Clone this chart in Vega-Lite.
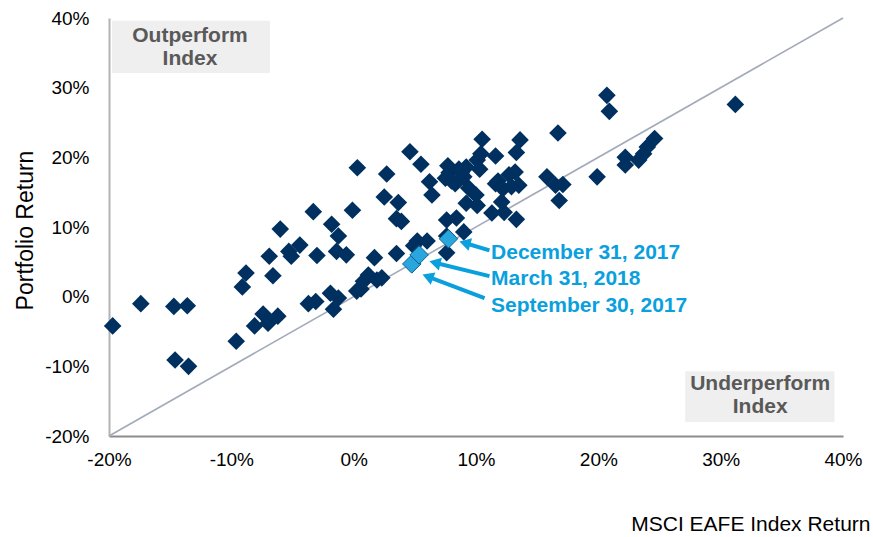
{
  "$schema": "https://vega.github.io/schema/vega-lite/v6.json",
  "width": 734,
  "height": 418,
  "autosize": {"type": "none"},
  "padding": {"left": 109, "top": 18, "right": 30, "bottom": 101},
  "background": "white",
  "config": {
    "font": "Liberation Sans",
    "view": {"stroke": null},
    "axis": {"grid": false, "ticks": false, "labelFlush": false, "labelOverlap": false, "labelColor": "#000000", "titleColor": "#000000", "titleFontWeight": "normal", "labelFontSize": 19}
  },
  "datasets": {
    "pts": [
      {"x": -19.7, "y": -4.2}, {"x": -17.4, "y": -1.0}, {"x": -14.7, "y": -1.4}, {"x": -13.6, "y": -1.3},
      {"x": -14.6, "y": -9.1}, {"x": -13.5, "y": -10.0}, {"x": -9.6, "y": -6.4}, {"x": -9.1, "y": 1.4},
      {"x": -8.8, "y": 3.4}, {"x": -6.9, "y": 5.8}, {"x": -6.6, "y": 3.0}, {"x": -6.0, "y": 9.7},
      {"x": -8.1, "y": -4.2}, {"x": -7.4, "y": -2.5}, {"x": -7.0, "y": -3.8}, {"x": -6.2, "y": -2.8},
      {"x": -5.3, "y": 6.5}, {"x": -4.4, "y": 7.4}, {"x": -5.1, "y": 5.8}, {"x": -3.0, "y": 5.9},
      {"x": -3.3, "y": 12.2}, {"x": -1.8, "y": 10.4}, {"x": -1.25, "y": 8.7}, {"x": -1.4, "y": 6.5},
      {"x": -0.6, "y": 6.0}, {"x": -0.1, "y": 12.4}, {"x": 0.3, "y": 18.5}, {"x": -3.7, "y": -1.0},
      {"x": -3.1, "y": -0.7}, {"x": -1.9, "y": 0.5}, {"x": -1.25, "y": -0.2}, {"x": -1.65, "y": -1.8},
      {"x": 0.25, "y": 0.8}, {"x": 0.6, "y": 1.1}, {"x": 0.8, "y": 2.2}, {"x": 1.2, "y": 3.1},
      {"x": 1.9, "y": 2.4}, {"x": 2.3, "y": 2.7}, {"x": 1.7, "y": 5.6},
      {"x": 2.7, "y": 17.6}, {"x": 2.5, "y": 14.3}, {"x": 3.65, "y": 13.5}, {"x": 3.5, "y": 11.2},
      {"x": 3.9, "y": 10.8}, {"x": 4.6, "y": 20.8}, {"x": 5.5, "y": 19.0}, {"x": 3.5, "y": 6.2},
      {"x": 6.2, "y": 16.5}, {"x": 6.4, "y": 14.6},
      {"x": 10.5, "y": 22.6}, {"x": 13.6, "y": 22.5}, {"x": 10.4, "y": 20.5}, {"x": 11.6, "y": 20.2},
      {"x": 13.3, "y": 20.7}, {"x": 16.7, "y": 23.5},
      {"x": 10.1, "y": 19.6}, {"x": 10.3, "y": 18.3}, {"x": 7.8, "y": 17.8}, {"x": 8.6, "y": 18.3},
      {"x": 9.0, "y": 17.2}, {"x": 8.3, "y": 16.2}, {"x": 9.4, "y": 15.6}, {"x": 10.0, "y": 14.6},
      {"x": 9.2, "y": 13.4}, {"x": 10.1, "y": 13.1}, {"x": 11.8, "y": 16.6}, {"x": 12.2, "y": 15.5},
      {"x": 13.2, "y": 17.9}, {"x": 13.5, "y": 16.0}, {"x": 12.9, "y": 15.8}, {"x": 12.1, "y": 13.6},
      {"x": 11.3, "y": 12.0}, {"x": 12.3, "y": 12.1}, {"x": 13.3, "y": 11.1}, {"x": 15.8, "y": 17.2},
      {"x": 16.5, "y": 16.0}, {"x": 17.1, "y": 16.1}, {"x": 16.8, "y": 13.8},
      {"x": 7.6, "y": 11.0}, {"x": 8.4, "y": 11.3}, {"x": 9.0, "y": 9.3}, {"x": 5.2, "y": 8.0},
      {"x": 4.9, "y": 7.3}, {"x": 6.0, "y": 8.0}, {"x": 7.6, "y": 6.3}, {"x": 7.6, "y": 8.7},
      {"x": 7.5, "y": 17.0}, {"x": 8.0, "y": 16.6}, {"x": 8.8, "y": 17.8}, {"x": 9.2, "y": 18.6},
      {"x": 7.7, "y": 18.8}, {"x": 12.7, "y": 17.5}, {"x": 11.6, "y": 16.2},
      {"x": 20.7, "y": 28.9}, {"x": 20.9, "y": 26.6}, {"x": 31.2, "y": 27.6}, {"x": 24.6, "y": 22.7},
      {"x": 24.0, "y": 21.5}, {"x": 23.7, "y": 20.5}, {"x": 23.3, "y": 19.6}, {"x": 22.2, "y": 20.0},
      {"x": 22.2, "y": 18.9}, {"x": 19.9, "y": 17.2}
    ],
    "hi": [
      {"label": "September 30, 2017", "x": 4.75, "y": 4.7},
      {"label": "March 31, 2018", "x": 5.35, "y": 6.0},
      {"label": "December 31, 2017", "x": 7.75, "y": 8.3}
    ],
    "arrows": [
      {"label": "December 31, 2017", "xt": 11.1, "yt": 6.65, "xh": 9.09, "yh": 7.7, "lx": 11.23, "ly": 6.29},
      {"label": "March 31, 2018", "xt": 11.1, "yt": 2.95, "xh": 6.64, "yh": 4.87, "lx": 11.23, "ly": 2.57},
      {"label": "September 30, 2017", "xt": 10.7, "yt": -0.2, "xh": 6.06, "yh": 2.89, "lx": 11.23, "ly": -1.29}
    ],
    "boxes": [
      {"text": "Outperform\nIndex", "x1": -19.75, "x2": -6.84, "y1": 39.6, "y2": 32.1, "tx": -13.38, "ty": 37.43},
      {"text": "Underperform\nIndex", "x1": 27.1, "x2": 39.3, "y1": -10.7, "y2": -18.0, "tx": 33.23, "ty": -12.57}
    ],
    "diag": [{"x": -20, "y": -20}, {"x": 40, "y": 40}]
  },
  "layer": [
    {
      "data": {"name": "boxes"},
      "mark": {"type": "rect", "color": "#efefef"},
      "encoding": {
        "x": {
          "field": "x1", "type": "quantitative",
          "scale": {"domain": [-20, 40], "nice": false, "zero": false},
          "axis": {
            "values": [-20, -10, 0, 10, 20, 30, 40], "labelExpr": "datum.value + '%'",
            "ticks": false, "grid": false, "domainColor": "#8c8c8c", "domainWidth": 2,
            "labelFontSize": 19, "labelColor": "#000000", "labelPadding": 14, "labelFlush": false, "labelOverlap": false,
            "title": "MSCI EAFE Index Return", "titleFontSize": 21, "titleFontWeight": "normal", "titleColor": "#000000",
            "titleX": 761, "titleY": 88, "titleAlign": "right", "titleBaseline": "middle"
          }
        },
        "x2": {"field": "x2"},
        "y": {
          "field": "y1", "type": "quantitative",
          "scale": {"domain": [-20, 40], "nice": false, "zero": false},
          "axis": {
            "values": [-20, -10, 0, 10, 20, 30, 40], "labelExpr": "datum.value + '%'",
            "ticks": false, "grid": false, "domainColor": "#b3b3b3", "domainWidth": 2,
            "labelFontSize": 19, "labelColor": "#000000", "labelPadding": 20, "labelFlush": false, "labelOverlap": false,
            "title": "Portfolio Return", "titleFontSize": 23, "titleFontWeight": "normal", "titleColor": "#000000",
            "titleX": -84, "titleY": 212, "titleAlign": "center", "titleBaseline": "middle", "titleAngle": -90
          }
        },
        "y2": {"field": "y2"}
      }
    },
    {
      "data": {"name": "boxes"},
      "mark": {"type": "text", "fontSize": 21, "fontWeight": "bold", "color": "#595959", "align": "center", "baseline": "middle", "lineBreak": "\n", "lineHeight": 23},
      "encoding": {
        "x": {"field": "tx", "type": "quantitative"},
        "y": {"field": "ty", "type": "quantitative"},
        "text": {"field": "text"}
      }
    },
    {
      "data": {"name": "diag"},
      "mark": {"type": "line", "color": "#a3aab9", "strokeWidth": 1.6},
      "encoding": {
        "x": {"field": "x", "type": "quantitative"},
        "y": {"field": "y", "type": "quantitative"}
      }
    },
    {
      "data": {"name": "pts"},
      "mark": {"type": "point", "shape": "diamond", "filled": true, "size": 310, "color": "#00305f", "opacity": 1},
      "encoding": {
        "x": {"field": "x", "type": "quantitative"},
        "y": {"field": "y", "type": "quantitative"}
      }
    },
    {
      "data": {"name": "hi"},
      "mark": {"type": "point", "shape": "diamond", "filled": true, "size": 340, "color": "#2aa6de", "stroke": "#0b5f8c", "strokeWidth": 1, "opacity": 1},
      "encoding": {
        "x": {"field": "x", "type": "quantitative"},
        "y": {"field": "y", "type": "quantitative"}
      }
    },
    {
      "data": {"name": "arrows"},
      "mark": {"type": "rule", "color": "#0aa0dd", "strokeWidth": 4},
      "encoding": {
        "x": {"field": "xt", "type": "quantitative"},
        "y": {"field": "yt", "type": "quantitative"},
        "x2": {"field": "xh"},
        "y2": {"field": "yh"}
      }
    },
    {
      "data": {"name": "arrows"},
      "transform": [{"filter": "datum.label === 'December 31, 2017'"}],
      "mark": {"type": "point", "shape": "triangle-up", "filled": true, "size": 170, "color": "#0aa0dd", "opacity": 1, "angle": 286},
      "encoding": {
        "x": {"field": "xh", "type": "quantitative"},
        "y": {"field": "yh", "type": "quantitative"}
      }
    },
    {
      "data": {"name": "arrows"},
      "transform": [{"filter": "datum.label === 'March 31, 2018'"}],
      "mark": {"type": "point", "shape": "triangle-up", "filled": true, "size": 170, "color": "#0aa0dd", "opacity": 1, "angle": 284},
      "encoding": {
        "x": {"field": "xh", "type": "quantitative"},
        "y": {"field": "yh", "type": "quantitative"}
      }
    },
    {
      "data": {"name": "arrows"},
      "transform": [{"filter": "datum.label === 'September 30, 2017'"}],
      "mark": {"type": "point", "shape": "triangle-up", "filled": true, "size": 170, "color": "#0aa0dd", "opacity": 1, "angle": 291},
      "encoding": {
        "x": {"field": "xh", "type": "quantitative"},
        "y": {"field": "yh", "type": "quantitative"}
      }
    },
    {
      "data": {"name": "arrows"},
      "mark": {"type": "text", "fontSize": 21, "fontWeight": "bold", "color": "#0aa0dd", "align": "left", "baseline": "middle"},
      "encoding": {
        "x": {"field": "lx", "type": "quantitative"},
        "y": {"field": "ly", "type": "quantitative"},
        "text": {"field": "label"}
      }
    }
  ]
}
